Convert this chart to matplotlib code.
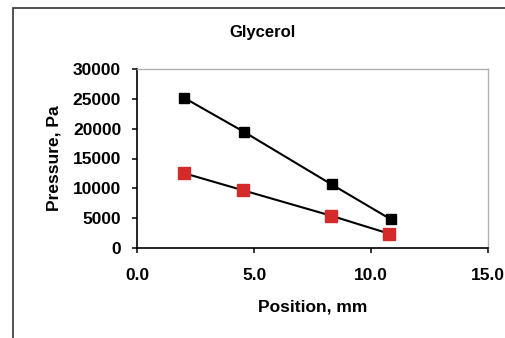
import matplotlib
matplotlib.use("Agg")
import matplotlib.pyplot as plt
from matplotlib.patches import Rectangle

title = "Glycerol"
x_black = [2.0, 4.55, 8.3, 10.83]
y_black = [25200, 19500, 10650, 4780]
x_red = [1.98, 4.52, 8.28, 10.77]
y_red = [12550, 9650, 5380, 2350]
xticks = [0.0, 5.0, 10.0, 15.0]
yticks = [0, 5000, 10000, 15000, 20000, 25000, 30000]

plt.rcParams['font.family'] = ['Liberation Sans', 'DejaVu Sans']
W, H = 505, 338
fig = plt.figure(figsize=(W/100, H/100), dpi=100)
fig.patches.append(Rectangle((13/W, -0.1), 1.2, (H-8)/H + 0.1, transform=fig.transFigure,
                             fill=False, edgecolor='#333333', linewidth=1.2))
ax = fig.add_axes([137.3/W, 1-247.7/H, (488.3-137.3)/W, (247.7-69.3)/H])
ax.plot(x_black, y_black, color='black', lw=1.5, marker='s', ms=7.5,
        mfc='black', mec='black', zorder=3)
ax.plot(x_red, y_red, color='black', lw=1.5, marker='s', ms=8.5,
        mfc='#d42a2a', mec='#d42a2a', zorder=3)
ax.set_xlim(0, 15)
ax.set_ylim(0, 30000)
ax.set_xticks(xticks)
ax.set_xticklabels([f"{v:.1f}" for v in xticks])
ax.set_yticks(yticks)
ax.set_yticklabels([str(v) for v in yticks])
for s in ['top', 'right']:
    ax.spines[s].set_color('#b0b0b0')
    ax.spines[s].set_linewidth(1.0)
for s in ['left', 'bottom']:
    ax.spines[s].set_color('black')
    ax.spines[s].set_linewidth(1.2)
ax.tick_params(direction='out', length=3.6, width=1.1, labelsize=12.5)
ax.tick_params(axis='y', pad=8)
ax.tick_params(axis='x', pad=11)
for lab in ax.get_xticklabels() + ax.get_yticklabels():
    lab.set_fontweight('bold')
ax.set_xlabel("Position, mm", fontsize=12.5, fontweight='bold', labelpad=12)
ax.set_ylabel("Pressure, Pa", fontsize=12.5, fontweight='bold', labelpad=8)
fig.text(262/W, 1-32/H, title, ha='center', va='center', fontsize=12, fontweight='bold')
fig.savefig("out.png", dpi=100)
